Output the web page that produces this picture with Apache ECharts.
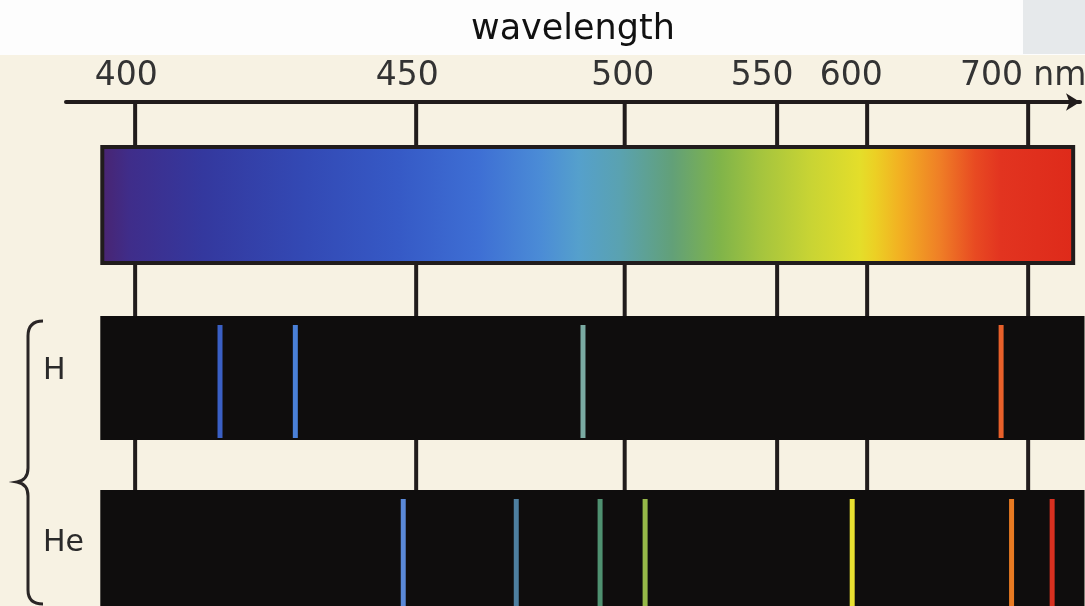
<!DOCTYPE html>
<html>
<head>
<meta charset="utf-8">
<script src="https://cdn.jsdelivr.net/npm/echarts@6/dist/echarts.min.js"></script>
<style>
  html, body { margin: 0; padding: 0; background: #f7f2e3; }
  #chart { width: 1085px; height: 606px; }
</style>
</head>
<body>
<div id="chart"></div>
<script>
// ---------------- DATA ----------------
// Axis ticks (nm) and their labels
const tickWavelengths = [400, 450, 500, 550, 600, 700];
const tickLabels = ['400', '450', '500', '550', '600', '700 nm'];
// Prism-dispersion axis calibration: relative position of each tick (% of the 400-700 nm span)
const dispersionScale = [0, 31.47, 54.82, 71.89, 81.97, 100];

// Element rows
const elements = ['H', 'He'];
// Emission lines (nm)
const hLines = [415.1, 428.5, 490.0, 683.2];
const heLines = [447.7, 474.0, 494.1, 506.7, 591.7, 689.7, 714.9];
// Extents (nm) of the continuous spectrum band and of the line-spectrum bands
const spectrumRange = [393.8, 729.2];
const lineBandRange = [393.8, 735.0];
const axisRange = [387.7, 731.0];
// Continuous spectrum colour stops (nm)
const spectrumStopNm = [393.8, 399, 412, 430, 447, 465, 480, 489, 499, 515.6, 531.3, 544.4, 568.3, 596, 605, 620.5, 645.3, 667, 683, 729.2];

// ---------------- STYLES ----------------
const spectrumStopColors = ['#4a2470', '#3f2d8a', '#34389e', '#3349b4', '#365ac6', '#3e6fd4', '#4b8cd6', '#55a0cc',
  '#5aa2b0', '#62a078', '#80b44a', '#a4c43e', '#c8d434', '#e4de2a', '#ecd024', '#f2b022', '#ef7e26', '#e84a22', '#e23420', '#de2a1a'];
const hLineColors = ['#3a5fc4', '#4a80d8', '#7aaaa2', '#e8602a'];
const heLineColors = ['#5a88d8', '#4e7fa0', '#4f9070', '#96b848', '#e8e030', '#e87a22', '#d83020'];
const layout = {
  axisY: 102, bottom: 606,
  spectrum: { top: 145, bottom: 265 },
  rows: [
    { top: 316, bottom: 440, lineTop: 325, lineBottom: 438, labelY: 371 },
    { top: 490, bottom: 606, lineTop: 499, lineBottom: 606, labelY: 543 }
  ],
  labelX: 43,
  brace: 'M43,321 Q28,321 28,336 L28,468 Q28,480 17,482 Q28,484 28,496 L28,590 Q28,604 43,604'
};
const labelNudge = [9, 9, 2, 15, 16, 5];
const ink = '#211c1c';
const font = 'DejaVu Sans';

// ---------------- SCALE ----------------
function toUnit(nm) {
  const w = tickWavelengths, p = dispersionScale;
  let i = 0;
  if (nm <= w[0]) i = 0;
  else if (nm >= w[w.length - 1]) i = w.length - 2;
  else { while (nm > w[i + 1]) i++; }
  return p[i] + (nm - w[i]) * (p[i + 1] - p[i]) / (w[i + 1] - w[i]);
}
const tickUnits = tickWavelengths.map(toUnit);

function xOf(api, u) { return api.coord([u, 0])[0]; }

const rich = {};
tickLabels.forEach((t, i) => {
  rich['t' + i] = { fontFamily: font, fontSize: 33, color: '#333', padding: [0, labelNudge[i] * 2, 0, 0] };
});

const chart = echarts.init(document.getElementById('chart'), null, { renderer: 'canvas' });

const option = {
  backgroundColor: '#f7f2e3',
  animation: false,
  title: {
    text: 'wavelength',
    left: 466, top: 7,
    textStyle: { fontFamily: font, fontSize: 35, fontWeight: 'normal', color: '#111' }
  },
  graphic: [
    { type: 'rect', z: -10, shape: { x: 0, y: 0, width: 1085, height: 55 }, style: { fill: '#fdfdfd' } },
    { type: 'rect', z: -9, shape: { x: 1023, y: 0, width: 62, height: 54 }, style: { fill: '#e6e9eb' } }
  ],
  grid: { left: 66, right: 5, top: layout.axisY, bottom: 0, containLabel: false, outerBoundsMode: 'none' },
  xAxis: {
    type: 'value', position: 'top',
    min: toUnit(axisRange[0]), max: toUnit(axisRange[1] + 1.2),
    splitLine: { show: false },
    axisTick: { show: false },
    axisLine: { show: true, onZero: false, lineStyle: { color: ink, width: 4 }, symbol: ['none', 'arrow'], symbolSize: [13, 14] },
    axisLabel: {
      customValues: tickUnits,
      margin: 9,
      hideOverlap: false,
      formatter: function (v) {
        let best = 0;
        tickUnits.forEach((u, i) => { if (Math.abs(u - v) < Math.abs(tickUnits[best] - v)) best = i; });
        return '{t' + best + '|' + tickLabels[best] + '}';
      },
      rich: rich
    }
  },
  yAxis: { type: 'value', min: 0, max: 1, show: false },
  series: [
    {
      type: 'custom', name: 'ticks', z: 1, clip: false,
      data: tickUnits.map(u => [u, 0]),
      renderItem: function (params, api) {
        const x = xOf(api, api.value(0));
        return { type: 'line', shape: { x1: x, y1: layout.axisY, x2: x, y2: layout.bottom }, style: { stroke: ink, lineWidth: 4 } };
      }
    },
    {
      type: 'custom', name: 'spectrum', z: 2, clip: false,
      data: [[toUnit(spectrumRange[0]), toUnit(spectrumRange[1])]],
      renderItem: function (params, api) {
        const x0 = xOf(api, api.value(0)), x1 = xOf(api, api.value(1));
        const stops = spectrumStopNm.map((nm, i) => ({
          offset: Math.min(1, Math.max(0, (xOf(api, toUnit(nm)) - x0) / (x1 - x0))),
          color: spectrumStopColors[i]
        }));
        return {
          type: 'rect',
          shape: { x: x0 + 2, y: layout.spectrum.top + 2, width: x1 - x0 - 4, height: layout.spectrum.bottom - layout.spectrum.top - 4 },
          style: { fill: { type: 'linear', x: 0, y: 0, x2: 1, y2: 0, colorStops: stops }, stroke: ink, lineWidth: 4 }
        };
      }
    },
    {
      type: 'custom', name: 'bands', z: 2, clip: false,
      data: elements.map((el, i) => ({ name: el, value: [toUnit(lineBandRange[0]), toUnit(lineBandRange[1]), i] })),
      renderItem: function (params, api) {
        const x0 = xOf(api, api.value(0)), x1 = xOf(api, api.value(1));
        const row = layout.rows[api.value(2)];
        const children = [
          { type: 'rect', shape: { x: x0, y: row.top, width: x1 - x0, height: row.bottom - row.top }, style: { fill: '#0f0d0d' } },
          { type: 'text', style: { text: elements[params.dataIndex], x: layout.labelX, y: row.labelY, verticalAlign: 'middle', align: 'left',
            font: '30px "DejaVu Sans"', fill: '#2a2a2a' } }
        ];
        if (params.dataIndex === 0) {
          children.push({ type: 'path', shape: { pathData: layout.brace }, style: { fill: 'none', stroke: '#2a2626', lineWidth: 3 } });
        }
        return { type: 'group', children: children };
      }
    },
    {
      type: 'custom', name: 'H', z: 3, clip: false,
      data: hLines.map((nm, i) => ({ value: [toUnit(nm), 0], itemStyle: { color: hLineColors[i] } })),
      renderItem: function (params, api) {
        const x = xOf(api, api.value(0)), row = layout.rows[0];
        return { type: 'line', shape: { x1: x, y1: row.lineTop, x2: x, y2: row.lineBottom }, style: { stroke: api.visual('color'), lineWidth: 5 } };
      }
    },
    {
      type: 'custom', name: 'He', z: 3, clip: false,
      data: heLines.map((nm, i) => ({ value: [toUnit(nm), 0], itemStyle: { color: heLineColors[i] } })),
      renderItem: function (params, api) {
        const x = xOf(api, api.value(0)), row = layout.rows[1];
        return { type: 'line', shape: { x1: x, y1: row.lineTop, x2: x, y2: row.lineBottom }, style: { stroke: api.visual('color'), lineWidth: 5 } };
      }
    }
  ]
};
chart.setOption(option);
</script>
</body>
</html>
